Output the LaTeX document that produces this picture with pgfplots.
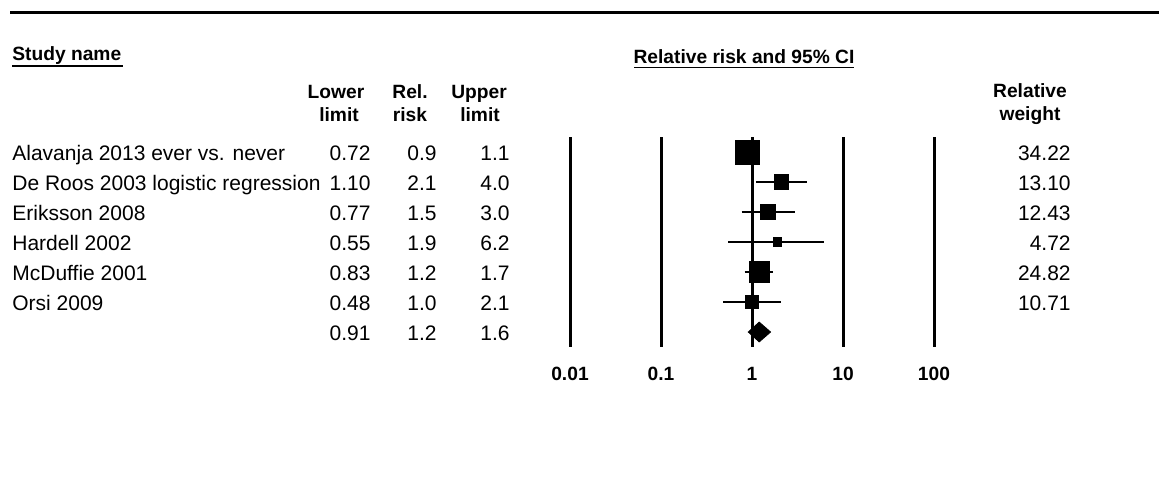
\documentclass[border=0pt]{standalone}
\usepackage{fontspec}
\setmainfont{Liberation Sans}
\usepackage{pgfplots}
\pgfplotsset{compat=1.18}
\newcommand{\bodyfont}{\fontsize{10.5}{12}\selectfont}
\newcommand{\headfont}{\bfseries\fontsize{9.6}{11}\selectfont}
\begin{document}
\begin{tikzpicture}
\begin{axis}[
  at={(285pt,-173.5pt)}, anchor=south west,
  scale only axis, width=182pt, height=105pt,
  xmode=log, xmin=0.01, xmax=100,
  ymin=0.5, ymax=7.5, y dir=reverse,
  axis line style={draw=none},
  major tick length=0pt, minor tick length=0pt,
  xminorticks=false,
  ytick=\empty,
  xtick={0.01,0.1,1,10,100},
  xticklabels={0.01,0.1,1,10,100},
  xticklabel style={font=\headfont, anchor=base, yshift=-16.5pt},
  xmajorgrids, grid style={black, line width=1.5pt},
  clip=false,
]
% confidence intervals
\addplot[black, line width=1.4pt] coordinates {(0.72,1) (1.1,1)};
\addplot[black, line width=1.4pt] coordinates {(1.10,2) (4.0,2)};
\addplot[black, line width=1.4pt] coordinates {(0.77,3) (3.0,3)};
\addplot[black, line width=1.4pt] coordinates {(0.55,4) (6.2,4)};
\addplot[black, line width=1.4pt] coordinates {(0.83,5) (1.7,5)};
\addplot[black, line width=1.4pt] coordinates {(0.48,6) (2.1,6)};
% point estimates, size by relative weight
\addplot[only marks, mark=square*, mark options={fill=black, draw=black}, mark size=6pt] coordinates {(0.9,1)};
\addplot[only marks, mark=square*, mark options={fill=black, draw=black}, mark size=3.7pt] coordinates {(2.1,2)};
\addplot[only marks, mark=square*, mark options={fill=black, draw=black}, mark size=3.6pt] coordinates {(1.5,3)};
\addplot[only marks, mark=square*, mark options={fill=black, draw=black}, mark size=2.2pt] coordinates {(1.9,4)};
\addplot[only marks, mark=square*, mark options={fill=black, draw=black}, mark size=5.1pt] coordinates {(1.2,5)};
\addplot[only marks, mark=square*, mark options={fill=black, draw=black}, mark size=3.35pt] coordinates {(1.0,6)};
% summary diamond
\addplot[fill=black, draw=black] coordinates {(0.91,7) (1.2,6.67) (1.6,7) (1.2,7.33)} -- cycle;
\end{axis}
\begin{scope}[x=0.5pt, y=-0.5pt]
\path[use as bounding box] (0,0) rectangle (1159,483);
\draw[line width=1.5pt] (10,12) -- (1159,12);
% headers
\node[anchor=base west, inner sep=0, font=\headfont] at (12,60) {Study name};
\draw[line width=0.6pt] (12,66) -- (123,66);
\node[anchor=base, inner sep=0, font=\headfont] at (744,63) {Relative risk and 95\% CI};
\draw[line width=0.6pt] (634,67.5) -- (854,67.5);
\node[anchor=base, inner sep=0, font=\headfont] at (336,98) {Lower};
\node[anchor=base, inner sep=0, font=\headfont] at (339,121) {limit};
\node[anchor=base, inner sep=0, font=\headfont] at (410,98) {Rel.};
\node[anchor=base, inner sep=0, font=\headfont] at (410,121) {risk};
\node[anchor=base, inner sep=0, font=\headfont] at (479,98) {Upper};
\node[anchor=base, inner sep=0, font=\headfont] at (480,121) {limit};
\node[anchor=base, inner sep=0, font=\headfont] at (1030,97) {Relative};
\node[anchor=base, inner sep=0, font=\headfont] at (1030,120) {weight};
% rows
\foreach \y/\name/\lo/\rr/\hi/\w in {
  1/Alavanja 2013 ever vs. never/0.72/0.9/1.1/34.22,
  2/De Roos 2003 logistic regression/1.10/2.1/4.0/13.10,
  3/Eriksson 2008/0.77/1.5/3.0/12.43,
  4/Hardell 2002/0.55/1.9/6.2/4.72,
  5/McDuffie 2001/0.83/1.2/1.7/24.82,
  6/Orsi 2009/0.48/1.0/2.1/10.71,
  7//0.91/1.2/1.6/}{
  \pgfmathsetmacro{\yy}{153+30*(\y-1)+7.5}
  \node[anchor=base west, inner sep=0, font=\bodyfont] at (12,\yy) {\name};
  \node[anchor=base east, inner sep=0, font=\bodyfont] at (371,\yy) {\lo};
  \node[anchor=base east, inner sep=0, font=\bodyfont] at (437,\yy) {\rr};
  \node[anchor=base east, inner sep=0, font=\bodyfont] at (510,\yy) {\hi};
  \node[anchor=base east, inner sep=0, font=\bodyfont] at (1071,\yy) {\w};
}
\end{scope}
\end{tikzpicture}
\end{document}
